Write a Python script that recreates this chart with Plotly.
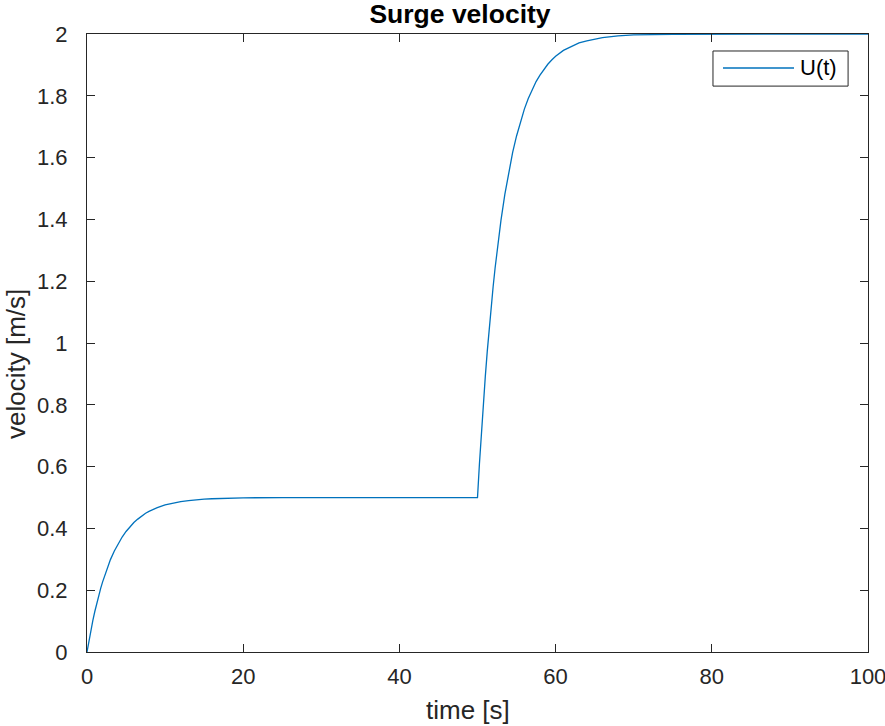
import plotly.graph_objects as go

# Time samples [s] and surge velocity U(t) [m/s]
time_s = [0, 0.25, 0.5, 0.75, 1, 1.25, 1.5, 1.75, 2, 2.5, 3, 3.5, 4, 4.5, 5, 5.5, 6, 6.5, 7, 7.5,
          8, 8.5, 9, 10, 11, 12, 13, 14, 15, 16, 18, 20, 25, 30, 40, 50,
          50.25, 50.5, 50.75, 51, 51.25, 51.5, 51.75, 52, 52.25, 52.5, 52.75, 53, 53.5, 54, 54.5,
          55, 55.5, 56, 56.5, 57, 57.5, 58, 58.5, 59, 59.5, 60, 61, 62, 63, 64, 65, 66, 68, 70,
          75, 80, 90, 100]
velocity = [0, 0.037, 0.070, 0.102, 0.131, 0.158, 0.183, 0.206, 0.227, 0.266, 0.299, 0.327,
            0.351, 0.372, 0.390, 0.406, 0.419, 0.430, 0.440, 0.449, 0.456, 0.462, 0.467, 0.476,
            0.482, 0.487, 0.490, 0.493, 0.495, 0.496, 0.498, 0.499, 0.4997, 0.5, 0.5, 0.5,
            0.610, 0.711, 0.805, 0.892, 0.973, 1.048, 1.117, 1.182, 1.242, 1.297, 1.348, 1.396,
            1.481, 1.554, 1.617, 1.670, 1.717, 1.757, 1.791, 1.820, 1.846, 1.867, 1.886, 1.902,
            1.916, 1.928, 1.947, 1.960, 1.971, 1.978, 1.984, 1.988, 1.994, 1.997, 1.999, 2.0,
            2.0, 2.0]

x_ticks = [0, 20, 40, 60, 80, 100]
y_ticks = [0, 0.2, 0.4, 0.6, 0.8, 1, 1.2, 1.4, 1.6, 1.8, 2]
y_tick_text = ["0", "0.2", "0.4", "0.6", "0.8", "1", "1.2", "1.4", "1.6", "1.8", "2"]

series_name = "U(t)"
title_text = "Surge velocity"
x_label = "time [s]"
y_label = "velocity [m/s]"

line_color = "#0072BD"
axis_color = "#262626"
font_family = "Liberation Sans, Arial, Helvetica, sans-serif"

fig = go.Figure()
fig.add_trace(go.Scatter(x=time_s, y=velocity, mode="lines", name=series_name,
                         line=dict(color=line_color, width=1.3), showlegend=False))

axis_common = dict(
    showgrid=False, zeroline=False, showline=True, linecolor=axis_color, linewidth=1,
    mirror="ticks", ticks="inside", ticklen=8, tickwidth=1, tickcolor=axis_color,
    tickfont=dict(family=font_family, size=22, color=axis_color), automargin=False,
    ticklabeloverflow="allow",
)

fig.update_xaxes(range=[0, 100], tickvals=x_ticks, ticktext=[str(v) for v in x_ticks],
                 ticklabelstandoff=5, **axis_common)
fig.update_yaxes(range=[0, 2], tickvals=y_ticks, ticktext=y_tick_text,
                 ticklabelstandoff=14, **axis_common)

# Axis titles placed as in the reference
fig.add_annotation(text=x_label, xref="paper", yref="paper", x=(468 - 87) / 781, y=-(710 - 652) / 618,
                   xanchor="center", yanchor="middle", showarrow=False,
                   font=dict(family=font_family, size=26, color=axis_color))
fig.add_annotation(text=y_label, xref="paper", yref="paper", x=-(87 - 16) / 781, y=(652 - 364) / 618,
                   xanchor="center", yanchor="middle", showarrow=False, textangle=-90,
                   font=dict(family=font_family, size=26, color=axis_color))

# Legend box drawn in MATLAB style (long line sample)
fig.add_shape(type="rect", xref="paper", yref="paper", x0=0.8015, x1=0.9745, y0=0.9157, y1=0.9725,
              line=dict(color=axis_color, width=1), fillcolor="white", layer="above")
fig.add_shape(type="line", xref="paper", yref="paper", x0=0.8143, x1=0.9053, y0=0.9450, y1=0.9450,
              line=dict(color=line_color, width=1.3), layer="above")
fig.add_annotation(text=series_name, xref="paper", yref="paper", x=0.9110, y=0.9450,
                   xanchor="left", yanchor="middle", showarrow=False,
                   font=dict(family=font_family, size=22, color="black"))

fig.update_layout(
    width=885, height=726,
    margin=dict(l=87, r=17, t=34, b=74),
    paper_bgcolor="white", plot_bgcolor="white",
    title=dict(text="<b>" + title_text + "</b>", x=460 / 885, xanchor="center", y=1 - 14 / 726, yanchor="middle",
               font=dict(family=font_family, size=26.5, color="black")),
)

fig.write_html("out.html")
